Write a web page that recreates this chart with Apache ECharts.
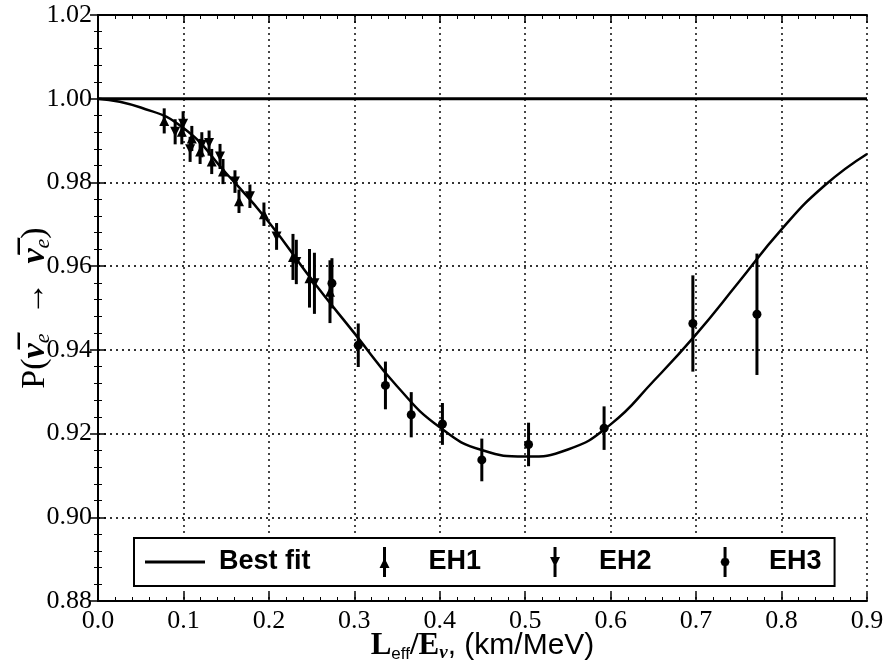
<!DOCTYPE html>
<html>

	<head>
		<meta charset="UTF-8">
		<title>P(anti-nue -> anti-nue) vs L/E</title>
		<script src="https://cdn.jsdelivr.net/npm/echarts@6.0.0/dist/echarts.min.js"></script>
		<style>
			html, body { margin: 0; padding: 0; background: #fff; }
		</style>
	</head>

	<body>
		<div style="width:883px;height:662px" id="main"></div>
		<script>
			// data
			var fitX = [0, 0.05, 0.1, 0.15, 0.2, 0.25, 0.3, 0.35, 0.4, 0.45, 0.5, 0.55, 0.6, 0.65, 0.7, 0.75, 0.8, 0.85, 0.9];
			var fitY = [1.0, 0.9979, 0.9930, 0.9822, 0.9705, 0.9568, 0.9440, 0.9313, 0.9215, 0.9160, 0.9145, 0.9162, 0.9222, 0.9325, 0.9437, 0.9562, 0.9688, 0.9792, 0.9868];

			var eh1X = [0.0775, 0.0981, 0.1098, 0.1195, 0.1331, 0.1463, 0.1650, 0.1942, 0.2282, 0.2475, 0.2715];
			var eh1Y = [0.9947, 0.9921, 0.9905, 0.9874, 0.9850, 0.9826, 0.9755, 0.9724, 0.9622, 0.9571, 0.9539];
			var eh1Err = [0.003, 0.003, 0.003, 0.003, 0.003, 0.003, 0.0028, 0.0028, 0.0055, 0.007, 0.0075];

			var eh2X = [0.0903, 0.0996, 0.1078, 0.1215, 0.1300, 0.1428, 0.1603, 0.1778, 0.2090, 0.2321, 0.2533];
			var eh2Y = [0.9921, 0.9940, 0.9879, 0.9890, 0.9894, 0.9862, 0.9802, 0.9767, 0.9671, 0.9610, 0.9559];
			var eh2Err = [0.003, 0.003, 0.003, 0.003, 0.003, 0.003, 0.0027, 0.0028, 0.0032, 0.0053, 0.0073];

			var eh3X = [0.2738, 0.3046, 0.3364, 0.3666, 0.4031, 0.4492, 0.5039, 0.5923, 0.6962, 0.7712];
			var eh3Y = [0.9559, 0.9411, 0.9315, 0.9245, 0.9223, 0.9137, 0.9174, 0.9213, 0.9463, 0.9485];
			var eh3Err = [0.006, 0.0052, 0.0057, 0.0054, 0.005, 0.0051, 0.0052, 0.0052, 0.0115, 0.0145];

			var noOscX = [0, 0.9];
			var noOscY = [1.0, 1.0];

			function pts(xs, ys) {
				return xs.map(function(x, i) { return [x, ys[i]]; });
			}
			function bars(xs, ys, es) {
				return xs.map(function(x, i) { return [x, ys[i] - es[i], ys[i] + es[i]]; });
			}
			// vertical error bar
			function errBar(params, api) {
				var top = api.coord([api.value(0), api.value(2)]);
				var bot = api.coord([api.value(0), api.value(1)]);
				return {
					type: 'line',
					shape: { x1: top[0], y1: top[1], x2: bot[0], y2: bot[1] },
					style: { stroke: '#000', lineWidth: 3 }
				};
			}

			var serif = 'Liberation Serif';
			var sans = 'Liberation Sans';

			var tickStyle = { inside: true, length: 8, lineStyle: { color: '#000', width: 1.5 } };
			var minorStyle = { show: true, splitNumber: 5, length: 4, lineStyle: { color: '#000', width: 1 } };
			var gridLine = { show: true, lineStyle: { color: '#333', width: 1.8, type: [2, 4] } };

			var myChart = echarts.init(document.getElementById('main'));
			myChart.setOption({
				animation: false,
				backgroundColor: '#fff',
				grid: { left: 98, right: 16, top: 15, bottom: 61, outerBoundsMode: 'none', containLabel: false },
				legend: {
					left: 134,
					top: 538,
					orient: 'horizontal',
					padding: [9, 13, 9, 11],
					borderColor: '#000',
					borderWidth: 2,
					backgroundColor: '#fff',
					itemWidth: 60,
					itemHeight: 30,
					itemGap: 69,
					selectedMode: false,
					textStyle: { fontFamily: sans, fontWeight: 'bold', fontSize: 27, color: '#000', padding: [0, 0, 0, 9] },
					data: [
						{ name: 'Best fit', icon: 'path://M0,0 L60,0 L60,3 L0,3 Z' },
						{ name: 'EH1', icon: 'path://M4,0 L7,0 L7,30 L4,30 Z M5.5,11 L10.5,21 L0.5,21 Z' },
						{ name: 'EH2', icon: 'path://M4,0 L7,0 L7,30 L4,30 Z M0.5,10 L10.5,10 L5.5,20 Z' },
						{ name: 'EH3', icon: 'path://M4,0 L7,0 L7,30 L4,30 Z M1,15 L2.3,11.8 L5.5,10.5 L8.7,11.8 L10,15 L8.7,18.2 L5.5,19.5 L2.3,18.2 Z' }
					]
				},
				xAxis: [{
					type: 'value',
					min: 0,
					max: 0.9,
					interval: 0.1,
					name: '{b|L}{sub|eff}{b|/E}{nu|ν}{t|, (km/MeV)}',
					nameLocation: 'middle',
					nameGap: 28,
					nameMoveOverlap: false,
					nameTextStyle: {
						rich: {
							b: { fontFamily: serif, fontWeight: 'bold', fontSize: 31, lineHeight: 34, color: '#000' },
							sub: { fontFamily: sans, fontSize: 17, verticalAlign: 'bottom', color: '#000' },
							nu: { fontFamily: serif, fontStyle: 'italic', fontWeight: 'bold', fontSize: 19, verticalAlign: 'bottom', color: '#000' },
							t: { fontFamily: sans, fontSize: 30, lineHeight: 34, color: '#000' }
						}
					},
					axisLine: { lineStyle: { color: '#000', width: 2 } },
					axisTick: tickStyle,
					minorTick: minorStyle,
					axisLabel: {
						margin: 7,
						fontFamily: serif,
						fontSize: 26,
						color: '#000',
						formatter: function(v) { return v.toFixed(1); }
					},
					splitLine: gridLine
				}, {
					type: 'value',
					position: 'top',
					min: 0,
					max: 0.9,
					interval: 0.1,
					axisLine: { lineStyle: { color: '#000', width: 2 } },
					axisTick: tickStyle,
					minorTick: minorStyle,
					axisLabel: { show: false },
					splitLine: { show: false }
				}],
				yAxis: [{
					type: 'value',
					min: 0.88,
					max: 1.02,
					interval: 0.02,
					name: '{n|P(}{v|ν̅}{s|e}{a|→}{v|ν̅}{s|e}{n|)}',
					nameLocation: 'middle',
					nameGap: 44,
					nameMoveOverlap: false,
					nameTextStyle: {
						rich: {
							n: { fontFamily: serif, fontSize: 34, lineHeight: 38, color: '#000' },
							a: { fontFamily: serif, fontSize: 34, lineHeight: 38, color: '#000', padding: [0, 18, 0, 18] },
							v: { fontFamily: serif, fontStyle: 'italic', fontWeight: 'bold', fontSize: 34, lineHeight: 38, color: '#000' },
							s: { fontFamily: serif, fontStyle: 'italic', fontSize: 22, verticalAlign: 'bottom', color: '#000' }
						}
					},
					axisLine: { lineStyle: { color: '#000', width: 2 } },
					axisTick: tickStyle,
					minorTick: minorStyle,
					axisLabel: {
						margin: 6,
						fontFamily: serif,
						fontSize: 26,
						color: '#000',
						formatter: function(v) { return v.toFixed(2); }
					},
					splitLine: gridLine
				}, {
					type: 'value',
					position: 'right',
					min: 0.88,
					max: 1.02,
					interval: 0.02,
					axisLine: { lineStyle: { color: '#000', width: 2 } },
					axisTick: tickStyle,
					minorTick: minorStyle,
					axisLabel: { show: false },
					splitLine: { show: false }
				}],
				series: [{
					name: 'No oscillation',
					type: 'line',
					data: pts(noOscX, noOscY),
					showSymbol: false,
					symbol: 'none',
					silent: true,
					lineStyle: { color: '#000', width: 3 }
				}, {
					name: 'Best fit',
					type: 'line',
					data: pts(fitX, fitY),
					smooth: 0.5,
					showSymbol: false,
					symbol: 'none',
					itemStyle: { color: '#000' },
					lineStyle: { color: '#000', width: 2.5 }
				}, {
					name: 'EH1 err',
					type: 'custom',
					renderItem: errBar,
					encode: { x: 0, y: [1, 2] },
					data: bars(eh1X, eh1Y, eh1Err)
				}, {
					name: 'EH2 err',
					type: 'custom',
					renderItem: errBar,
					encode: { x: 0, y: [1, 2] },
					data: bars(eh2X, eh2Y, eh2Err)
				}, {
					name: 'EH3 err',
					type: 'custom',
					renderItem: errBar,
					encode: { x: 0, y: [1, 2] },
					data: bars(eh3X, eh3Y, eh3Err)
				}, {
					name: 'EH1',
					type: 'scatter',
					symbol: 'triangle',
					symbolSize: 10,
					itemStyle: { color: '#000', opacity: 1 },
					data: pts(eh1X, eh1Y)
				}, {
					name: 'EH2',
					type: 'scatter',
					symbol: 'triangle',
					symbolRotate: 180,
					symbolSize: 10,
					itemStyle: { color: '#000', opacity: 1 },
					data: pts(eh2X, eh2Y)
				}, {
					name: 'EH3',
					type: 'scatter',
					symbol: 'circle',
					symbolSize: 9,
					itemStyle: { color: '#000', opacity: 1 },
					data: pts(eh3X, eh3Y)
				}]
			});
		</script>
	</body>

</html>
